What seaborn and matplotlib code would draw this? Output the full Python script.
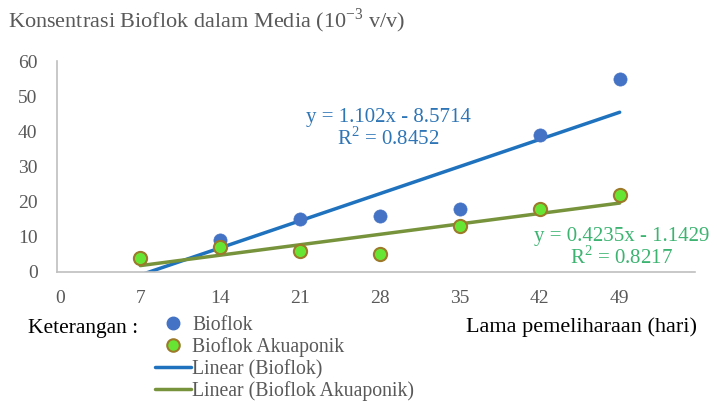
import matplotlib
matplotlib.use("Agg")
import matplotlib.pyplot as plt
import seaborn as sns
import pandas as pd
from matplotlib.lines import Line2D

days = [7, 14, 21, 28, 35, 42, 49]
bioflok = [4, 9, 15, 16, 18, 39, 55]
akuaponik = [4, 7, 6, 5, 13, 18, 22]
x_ticks = [0, 7, 14, 21, 28, 35, 42, 49]
y_ticks = [0, 10, 20, 30, 40, 50, 60]

df = pd.DataFrame({"hari": days, "Bioflok": bioflok, "Bioflok Akuaponik": akuaponik})

sns.set_style("white")
plt.rcParams["font.family"] = ["Liberation Serif", "DejaVu Serif"]
plt.rcParams["mathtext.fontset"] = "custom"
plt.rcParams["mathtext.rm"] = "Liberation Serif"

fig = plt.figure(figsize=(7.17, 4.05), dpi=100)
ax = fig.add_axes([57 / 717, 133 / 405, (695 - 57) / 717, (272 - 61) / 405])

blue_pt = "#4472C4"
blue_ln = "#1F72BE"
green_fill = "#66E633"
green_edge = "#9C7A2A"
green_ln = "#77933C"

sns.regplot(data=df, x="hari", y="Bioflok", ax=ax, scatter=False, ci=None,
            line_kws=dict(color=blue_ln, lw=2.5, zorder=2))
sns.regplot(data=df, x="hari", y="Bioflok Akuaponik", ax=ax, scatter=False, ci=None,
            line_kws=dict(color=green_ln, lw=2.5, zorder=2))
sns.scatterplot(data=df, x="hari", y="Bioflok", ax=ax, color=blue_pt, s=90,
                edgecolor=blue_pt, linewidth=0.5, zorder=3)
sns.scatterplot(data=df, x="hari", y="Bioflok Akuaponik", ax=ax, color=green_fill, s=90,
                edgecolor=green_edge, linewidth=1.5, zorder=4)

ax.set_xlim(-0.3, 55.6)
ax.set_ylim(0, 60)
ax.set_xticks(x_ticks)
ax.set_yticks(y_ticks)
ax.set_xlabel("")
ax.set_ylabel("")
ax.tick_params(axis="both", length=0, labelsize=14, colors="#595959")
ax.tick_params(axis="x", pad=13)
ax.tick_params(axis="y", pad=14)
for s in ["top", "right"]:
    ax.spines[s].set_visible(False)
for s in ["left", "bottom"]:
    ax.spines[s].set_color("#BFBFBF")
    ax.spines[s].set_linewidth(1.2)

fig.text(388 / 717, 1 - 129 / 405, "y = 1.102x - 8.5714\nR$^2$ = 0.8452",
         ha="center", va="center", fontsize=15, color="#2E75B6", linespacing=1.0)
fig.text(622 / 717, 1 - 248 / 405, "y = 0.4235x - 1.1429\nR$^2$ = 0.8217",
         ha="center", va="center", fontsize=15, color="#3CB371", linespacing=1.0)

fig.text(8 / 717, 1 - 21 / 405, "Konsentrasi Bioflok dalam Media (10$^{\\mathrm{-3}}$ v/v)",
         ha="left", va="center", fontsize=16, color="#595959")

handles = [
    Line2D([], [], ls="none", marker="o", ms=9, mfc=blue_pt, mec=blue_pt),
    Line2D([], [], ls="none", marker="o", ms=9, mfc=green_fill, mec=green_edge, mew=1.5),
    Line2D([], [], color=blue_ln, lw=2.5),
    Line2D([], [], color=green_ln, lw=2.5),
]
labels = ["Bioflok", "Bioflok Akuaponik", "Linear (Bioflok)", "Linear (Bioflok Akuaponik)"]
leg = fig.legend(handles, labels, loc="upper left", bbox_to_anchor=(155 / 717, 1 - 316 / 405),
                 frameon=False, fontsize=14.2, labelspacing=0.12, handlelength=1.8,
                 handletextpad=0.1, borderaxespad=0, borderpad=0)
for t in leg.get_texts():
    t.set_color("#595959")

fig.text(28 / 717, 1 - 329 / 405, "Keterangan :", ha="left", va="center", fontsize=15.5, color="black")
fig.text(697 / 717, 1 - 327 / 405, "Lama pemeliharaan (hari)", ha="right", va="center",
         fontsize=16, color="black")

fig.savefig("out.png", dpi=100)
